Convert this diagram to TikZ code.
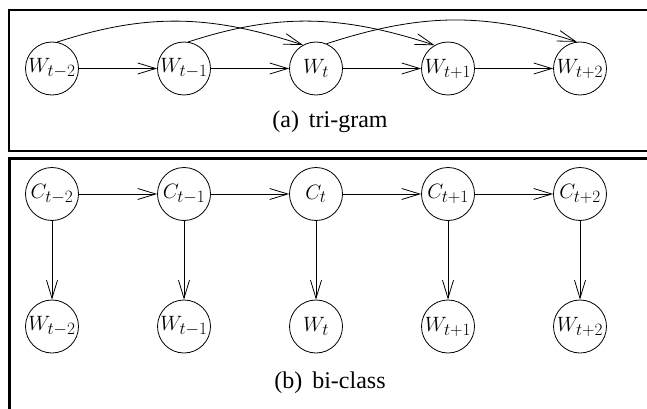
\documentclass[tikz,border=0pt]{standalone}
\usepackage[no-math]{fontspec}
\setmainfont{Liberation Serif}
\DeclareMathSizes{20}{20}{16}{12}
\usetikzlibrary{arrows.meta}
\begin{document}
\begin{tikzpicture}[x=1pt,y=-1pt,
  var/.style={circle,draw,line width=0.8pt,minimum size=53pt,inner sep=0pt,font=\fontsize{20}{22}\selectfont},
  edge/.style={line width=0.8pt,-{Straight Barb[length=18pt,width=11pt,line width=0.8pt]}},
  frame/.style={line width=2pt},
  captext/.style={font=\fontsize{24}{26}\selectfont,anchor=base}]
\useasboundingbox (0,0) rectangle (647,409);
% frames
\draw[frame] (648,10) -- (9,10) -- (9,151) -- (648,151);
\draw[line width=3pt] (648,158.5) -- (9,158.5) -- (9,410);
% top panel
\node[var] (a1) at (52,68.5) {$W_{t-2}$};
\node[var] (a2) at (184,68.5) {$W_{t-1}$};
\node[var] (a3) at (316,68.5) {$W_{t}$};
\node[var] (a4) at (448,68.5) {$W_{t+1}$};
\node[var] (a5) at (580,68.5) {$W_{t+2}$};
\draw[edge] (a1) -- (a2);
\draw[edge] (a2) -- (a3);
\draw[edge] (a3) -- (a4);
\draw[edge] (a4) -- (a5);
\draw[edge] (a1.79) to[out=18,in=162] (a3.119);
\draw[edge] (a2.81) to[out=18,in=162] (a4.120);
\draw[edge] (a3.67) to[out=18,in=162] (a5.97);
\node[captext] (capa) at (330,128) {(a)\, tri-gram};
% bottom panel
\node[var] (c1) at (52,194) {$C_{t-2}$};
\node[var] (c2) at (184,194) {$C_{t-1}$};
\node[var] (c3) at (316,194) {$C_{t}$};
\node[var] (c4) at (448,194) {$C_{t+1}$};
\node[var] (c5) at (580,194) {$C_{t+2}$};
\node[var] (w1) at (52,326.5) {$W_{t-2}$};
\node[var] (w2) at (184,326.5) {$W_{t-1}$};
\node[var] (w3) at (316,326.5) {$W_{t}$};
\node[var] (w4) at (448,326.5) {$W_{t+1}$};
\node[var] (w5) at (580,326.5) {$W_{t+2}$};
\draw[edge] (c1) -- (c2);
\draw[edge] (c2) -- (c3);
\draw[edge] (c3) -- (c4);
\draw[edge] (c4) -- (c5);
\foreach \i in {1,...,5} \draw[edge] (c\i) -- (w\i);
\node[captext] (capb) at (330,388) {(b)\, bi-class};
\end{tikzpicture}
\end{document}
